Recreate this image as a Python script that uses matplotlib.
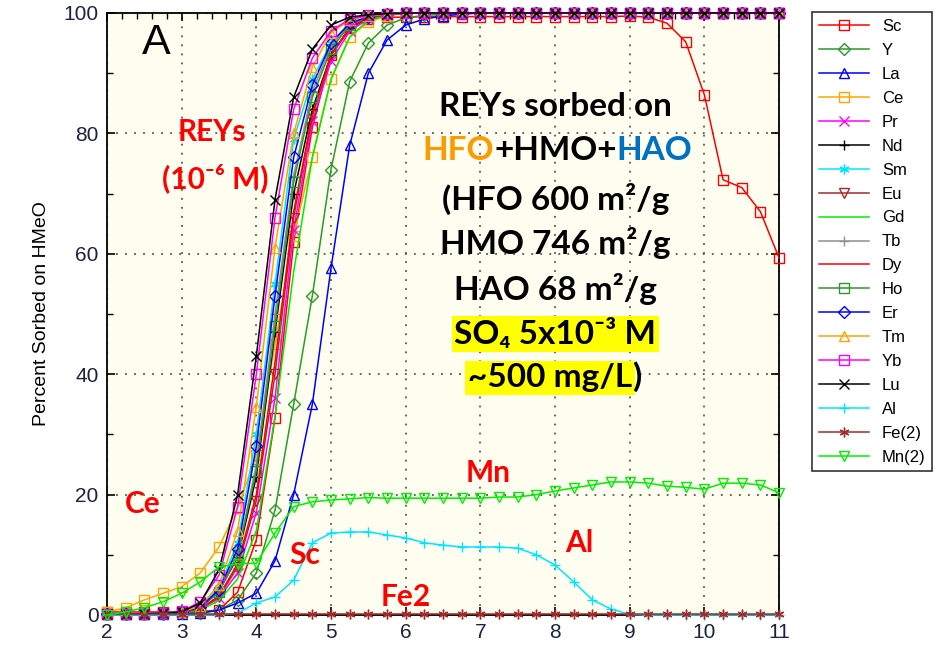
# -*- coding: utf-8 -*-
# REY sorption edges on HFO+HMO+HAO (percent sorbed vs pH), panel A
import numpy as np
import matplotlib; matplotlib.use("Agg")
import matplotlib.pyplot as plt
from matplotlib.ticker import MultipleLocator

plt.rcParams["font.family"] = ["Liberation Sans", "DejaVu Sans"]

# ── data ──
ph = [2.0, 2.25, 2.5, 2.75, 3.0, 3.25, 3.5, 3.75, 4.0, 4.25, 4.5, 4.75, 5.0, 5.25, 5.5, 5.75,
      6.0, 6.25, 6.5, 6.75, 7.0, 7.25, 7.5, 7.75, 8.0, 8.25, 8.5, 8.75, 9.0, 9.25, 9.5, 9.75,
      10.0, 10.25, 10.5, 10.75, 11.0]

TOP = [100.0] * 21   # plateau, pH 6..11

sc = [0.5, 0.5, 0.5, 0.5, 0.5, 0.6, 0.8, 3.8, 12.5, 32.7, 62, 81, 93, 97.5, 99, 99.3,
      99.3, 99.4, 99.4, 99.4, 99.4, 99.4, 99.4, 99.4, 99.4, 99.4, 99.4, 99.4, 99.5, 99.3, 98.3, 95.2,
      86.4, 72.3, 71, 67, 59.3]
y_ = [0.1, 0.1, 0.1, 0.2, 0.3, 0.4, 0.8, 2.5, 7, 17.4, 35, 53, 74, 88.6, 95, 98,
      99.2, 99.6, 99.8, 100, 100, 100, 100, 100, 100, 100, 100, 100, 100, 100, 100, 100,
      100, 100, 100, 100, 100]
la = [0.1, 0.1, 0.1, 0.1, 0.2, 0.3, 0.8, 2, 3.6, 9, 20, 35, 57.6, 78, 90, 95.5,
      98, 99, 99.5, 99.8, 100, 100, 100, 100, 100, 100, 100, 100, 100, 100, 100, 100,
      100, 100, 100, 100, 100]
ce = [0.5, 1.2, 2.5, 3.6, 4.7, 7, 11.3, 17.8, 26.6, 45, 63, 76, 89, 96, 98.5, 99.5] + TOP
pr = [0.1, 0.1, 0.2, 0.3, 0.4, 0.9, 2.8, 7, 17, 36, 64, 82, 92, 97, 99, 99.7] + TOP
nd = [0.1, 0.1, 0.2, 0.3, 0.5, 1.2, 4, 9.6, 23, 47, 70, 84, 93, 97.5, 99.2, 99.7] + TOP
sm = [0.1, 0.1, 0.2, 0.3, 0.5, 1.5, 4.5, 12, 30, 55, 79, 89, 95, 98.3, 99.4, 99.8] + TOP
eu = [0.1, 0.1, 0.2, 0.3, 0.4, 1.0, 3, 8, 19, 40, 66, 83, 93, 97.6, 99.2, 99.7] + TOP
gd = [0.1, 0.1, 0.2, 0.3, 0.4, 0.8, 2.4, 6, 14, 33, 57, 76, 89, 96, 98.8, 99.6] + TOP
tb = [0.1, 0.1, 0.2, 0.3, 0.5, 1.3, 4, 10, 25, 50, 73, 87, 94.5, 98, 99.4, 99.8] + TOP
dy = [0.1, 0.1, 0.2, 0.3, 0.4, 1.0, 3.2, 8.5, 20, 42, 67, 83, 93, 97.5, 99.2, 99.7] + TOP
ho = [0.1, 0.1, 0.2, 0.3, 0.5, 1.2, 3.8, 10, 24, 48, 72, 86, 94, 98, 99.3, 99.8] + TOP
er = [0.1, 0.1, 0.2, 0.3, 0.5, 1.3, 4.2, 11, 28, 53, 76, 88, 95, 98.3, 99.4, 99.8] + TOP
tm = [0.1, 0.1, 0.2, 0.3, 0.5, 1.5, 5, 14, 34.6, 61, 80, 91, 96.7, 98.8, 99.5, 99.8] + TOP
yb = [0.1, 0.1, 0.2, 0.3, 0.6, 2.2, 6.6, 18, 40, 66, 84, 92.5, 97, 99, 99.6, 99.9] + TOP
lu = [0.1, 0.1, 0.2, 0.3, 0.5, 2.0, 7.5, 20, 43, 69, 86, 94, 98, 99.3, 99.7, 99.9] + TOP
al = [0, 0, 0, 0, 0, 0, 0, 0.3, 2, 3, 5.8, 12, 13.6, 13.8, 13.8, 13.3,
      12.8, 12, 11.6, 11.3, 11.3, 11.3, 11.1, 10, 8.3, 5.5, 2.5, 1, 0.1, 0, 0, 0,
      0, 0, 0, 0, 0]
fe2 = [0.1] * 37
mn2 = [0, 0.5, 1.2, 2.2, 3.6, 5.5, 8, 8.5, 8.6, 13.6, 18, 18.8, 19.1, 19.3, 19.5, 19.4,
       19.4, 19.4, 19.4, 19.4, 19.4, 19.6, 19.6, 20, 20.6, 21.1, 21.6, 22.1, 22.1, 21.9, 21.4, 21.2,
       20.9, 21.9, 21.9, 21.6, 20.3]

names = ["Sc", "Y", "La", "Ce", "Pr", "Nd", "Sm", "Eu", "Gd", "Tb", "Dy", "Ho", "Er", "Tm",
         "Yb", "Lu", "Al", "Fe(2)", "Mn(2)"]
series = [sc, y_, la, ce, pr, nd, sm, eu, gd, tb, dy, ho, er, tm, yb, lu, al, fe2, mn2]

ASTER = (6, 2, 0)
styles = [("#ff0000", "s"), ("#2a9a2a", "D"), ("#0000ff", "^"), ("#ffa500", "s"),
          ("#ff00ff", "x"), ("#000000", "+"), ("#00e5ff", ASTER), ("#a52a2a", "v"),
          ("#00ee00", None), ("#909090", "+"), ("#ff0000", None), ("#2a9a2a", "s"),
          ("#0000ff", "D"), ("#ffa500", "^"), ("#ff00ff", "s"), ("#000000", "x"),
          ("#00e5ff", "+"), ("#a52a2a", ASTER), ("#00ee00", "v")]

fig = plt.figure(figsize=(9.44, 6.56), dpi=100)
ax = fig.add_axes([0.1133, 0.0625, 0.712, 0.9177])
ax.set_facecolor("#fefef0")

for nm, vals, (c, m) in zip(names, series, styles):
    ms = 6 if m in ("D",) else 7
    ax.plot(ph, vals, color=c, lw=1.1, marker=m, ms=ms, mfc="none", mec=c, mew=1.0,
            label=nm, clip_on=False, zorder=3)

ax.set_xlim(2, 11); ax.set_ylim(0, 100)
ax.set_xticks(range(2, 12)); ax.set_yticks(range(0, 101, 20))
ax.yaxis.set_minor_locator(MultipleLocator(10))
ax.xaxis.set_minor_locator(MultipleLocator(0.2))
ax.tick_params(which="both", direction="in", top=True, right=True, labelsize=15,
               labelcolor="#1c2340", pad=6)
ax.tick_params(which="major", length=6, width=1.2)
ax.tick_params(which="minor", length=4, width=1.0)
ax.tick_params(axis="x", which="minor", bottom=False)
ax.grid(which="major", color="#555555", ls=(0, (1, 4)), lw=1.3)
for s in ax.spines.values():
    s.set_linewidth(1.3)
ax.set_ylabel("Percent Sorbed on HMeO", fontsize=14, labelpad=10)

# ── annotations ──
TF = ["Lato", "DejaVu Sans"]
ax.text(0.074, 0.950, "A", transform=ax.transAxes, fontsize=31, color="black",
        ha="center", va="center", family=["Liberation Sans"])
red = dict(color="#ff0000", fontsize=21.5, fontweight="bold", family=TF, ha="center", va="center")
ax.text(3.40, 80.2, "REYs", **red)
ax.text(3.45, 72.6, "(10⁻⁶ M)", **red)
ax.text(2.48, 18.5, "Ce", **red)
ax.text(4.65, 10.0, "Sc", **red)
ax.text(6.0, 3.0, "Fe2", **red)
ax.text(7.1, 23.6, "Mn", **red)
ax.text(8.32, 12.0, "Al", **red)

FS = 24
blk = dict(fontsize=FS, fontweight="bold", family=TF, va="center")
cx = 0.667
ax.text(cx, 0.844, "REYs sorbed on", transform=ax.transAxes, ha="center", **blk)
mid = ax.text(cx, 0.772, "+HMO+", transform=ax.transAxes, ha="center", color="black", **blk)
ax.annotate("HFO", xy=(0, 0), xycoords=mid, ha="right", va="bottom", color="#ff9900",
            fontsize=FS, fontweight="bold", family=TF)
ax.annotate("HAO", xy=(1, 0), xycoords=mid, ha="left", va="bottom", color="#0070c0",
            fontsize=FS, fontweight="bold", family=TF)
ax.text(cx, 0.691, "(HFO 600 m²/g", transform=ax.transAxes, ha="center", **blk)
ax.text(cx, 0.618, "HMO 746 m²/g", transform=ax.transAxes, ha="center", **blk)
ax.text(cx, 0.542, "HAO 68 m²/g", transform=ax.transAxes, ha="center", **blk)
ax.text(cx, 0.467, "SO₄ 5x10⁻³ M", transform=ax.transAxes, ha="center",
        bbox=dict(facecolor="#ffff00", edgecolor="none", pad=2), **blk)
t500 = ax.text(cx - 0.008, 0.394, "~500 mg/L", transform=ax.transAxes, ha="center",
               bbox=dict(facecolor="#ffff00", edgecolor="none", pad=2), **blk)
ax.annotate(")", xy=(1, 0), xycoords=t500, ha="left", va="bottom", color="black",
            fontsize=FS, fontweight="bold", family=TF)

leg = fig.legend(loc="upper left", bbox_to_anchor=(0.860, 0.981), fontsize=12,
                 frameon=True, fancybox=False, edgecolor="black", numpoints=1,
                 handlelength=3.0, labelspacing=0.535, borderpad=0.4, handletextpad=0.8,
                 borderaxespad=0)
leg.get_frame().set_linewidth(1.2)

fig.savefig("out.png", dpi=100)
